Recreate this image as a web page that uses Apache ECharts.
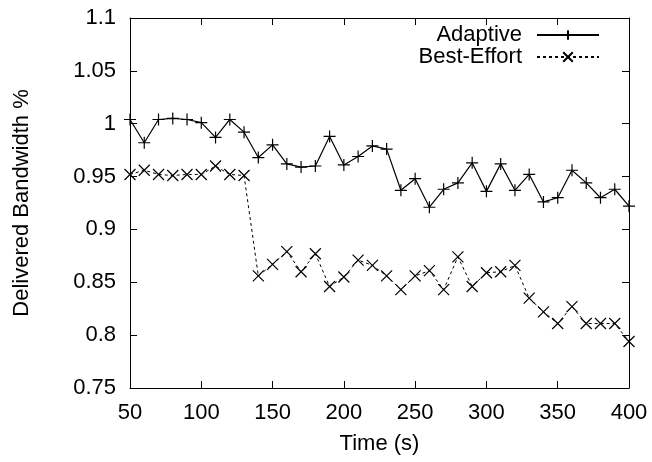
<!DOCTYPE html>
<html><head><meta charset="utf-8">
<script src="https://cdn.jsdelivr.net/npm/echarts@6/dist/echarts.min.js"></script>
<style>html,body{margin:0;padding:0;background:#fff}#c{width:652px;height:462px}</style>
</head><body><div id="c"></div>
<script>
var times = [50,60,70,80,90,100,110,120,130,140,150,160,170,180,190,200,210,220,230,240,250,260,270,280,290,300,310,320,330,340,350,360,370,380,390,400];
var adaptive = [1.004,0.982,1.004,1.005,1.004,1.001,0.987,1.004,0.992,0.968,0.980,0.962,0.959,0.960,0.988,0.961,0.969,0.979,0.976,0.937,0.948,0.921,0.938,0.944,0.963,0.936,0.962,0.937,0.952,0.926,0.930,0.956,0.944,0.930,0.938,0.922];
var bestEffort = [0.952,0.956,0.952,0.951,0.952,0.952,0.960,0.952,0.951,0.856,0.867,0.879,0.860,0.877,0.846,0.855,0.871,0.866,0.856,0.843,0.856,0.861,0.843,0.874,0.846,0.859,0.860,0.866,0.835,0.822,0.811,0.827,0.811,0.811,0.811,0.794];
var xTicks = {min:50, max:400, interval:50};
var yTicks = {min:0.75, max:1.1, interval:0.05};

function pairs(xs, ys){ return xs.map(function(x,i){return [x, ys[i]];}); }
var FONT = '"Liberation Sans"';
var FS = 22;
var plusSym = 'path://M0,5L10,5M5,0L5,10';
var crossSym = 'path://M0,0L10,10M10,0L0,10';
var tickStyle = {show:true, inside:true, length:7, lineStyle:{color:'#000', width:1}};
var lineAx = {show:true, onZero:false, lineStyle:{color:'#000', width:1}};

var chart = echarts.init(document.getElementById('c'), null, {renderer:'canvas'});
chart.setOption({
  animation:false,
  backgroundColor:'#fff',
  grid:{left:130, right:23, top:18, bottom:74, containLabel:false},
  legend:{
    data:['Adaptive','Best-Effort'],
    orient:'vertical', right:52, top:24, align:'right', padding:0,
    itemWidth:62, itemHeight:12, itemGap:0,
    textStyle:{fontFamily:FONT, fontSize:22, color:'#000', lineHeight:21, padding:[0,10,0,0]}
  },
  xAxis:[
    {type:'value', min:xTicks.min, max:xTicks.max, interval:xTicks.interval, position:'bottom',
     name:'Time (s)', nameLocation:'middle', nameGap:45,
     nameTextStyle:{fontFamily:FONT, fontSize:22, color:'#000'},
     axisLine:lineAx, axisTick:tickStyle, splitLine:{show:false},
     axisLabel:{fontFamily:FONT, fontSize:FS, color:'#000', margin:14}},
    {type:'value', min:xTicks.min, max:xTicks.max, interval:xTicks.interval, position:'top',
     axisLine:lineAx, axisTick:tickStyle, splitLine:{show:false}, axisLabel:{show:false}}
  ],
  yAxis:[
    {type:'value', min:yTicks.min, max:yTicks.max, interval:yTicks.interval, position:'left',
     name:'Delivered Bandwidth %', nameLocation:'middle', nameGap:97,
     nameTextStyle:{fontFamily:FONT, fontSize:22, color:'#000'},
     axisLine:lineAx, axisTick:tickStyle, splitLine:{show:false},
     axisLabel:{fontFamily:FONT, fontSize:FS, color:'#000', margin:14}},
    {type:'value', min:yTicks.min, max:yTicks.max, interval:yTicks.interval, position:'right',
     axisLine:lineAx, axisTick:tickStyle, splitLine:{show:false}, axisLabel:{show:false}}
  ],
  series:[
    {name:'Adaptive', type:'line', data:pairs(times, adaptive),
     symbol:plusSym, symbolSize:12, showAllSymbol:true,
     lineStyle:{color:'#000', width:1.2},
     itemStyle:{color:'#000', borderColor:'#000', borderWidth:1.2}},
    {name:'Best-Effort', type:'line', data:pairs(times, bestEffort),
     symbol:crossSym, symbolSize:11, showAllSymbol:true,
     lineStyle:{color:'#000', width:1, type:[3,3]},
     itemStyle:{color:'#000', borderColor:'#000', borderWidth:1.2}}
  ]
});
</script></body></html>
